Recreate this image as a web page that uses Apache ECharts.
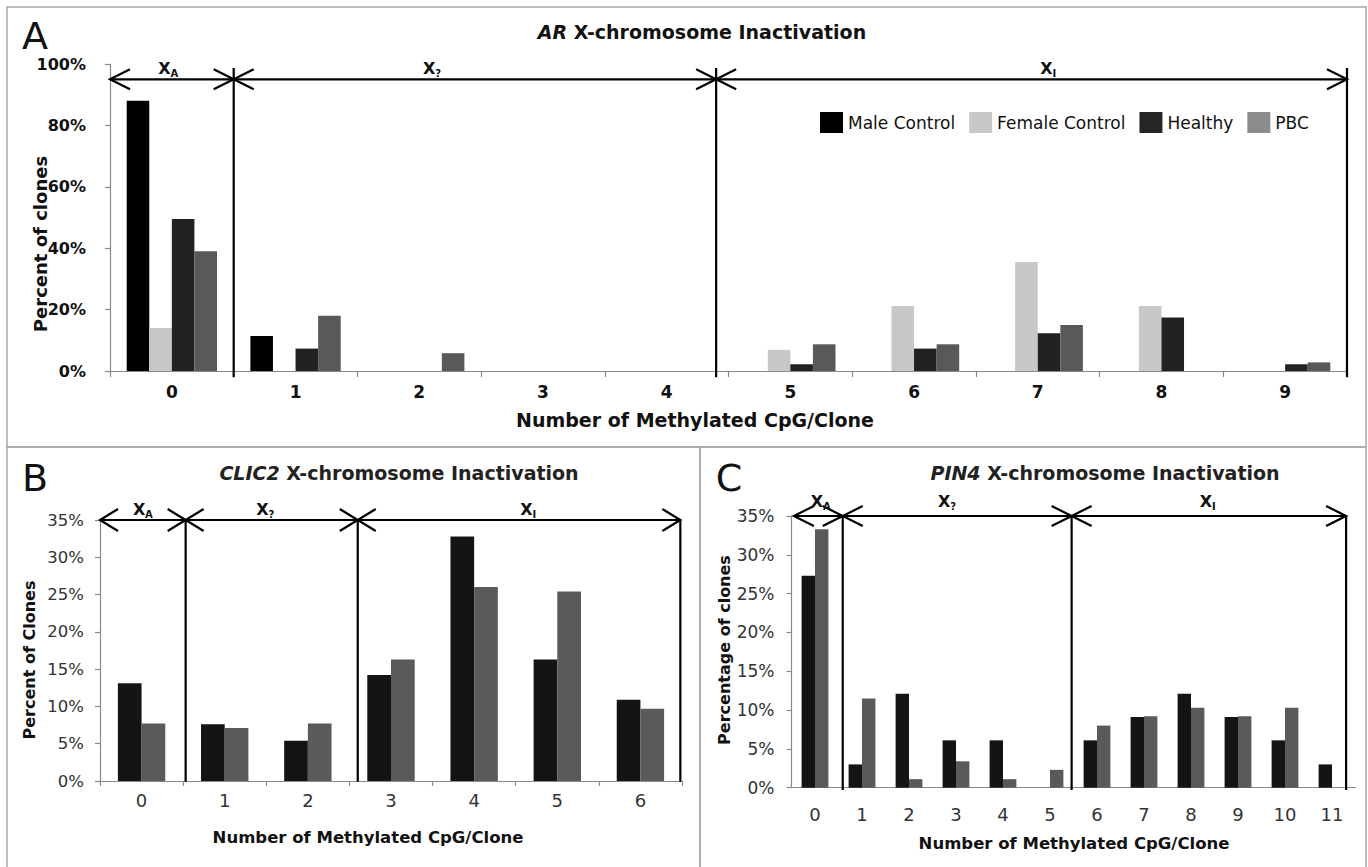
<!DOCTYPE html>
<html>
<head>
<meta charset="utf-8">
<script src="https://cdn.jsdelivr.net/npm/echarts@6/dist/echarts.min.js"></script>
<style>
html,body{margin:0;padding:0;background:#fff;}
#chart{width:1368px;height:867px;}
</style>
</head>
<body>
<div id="chart"></div>
<script>
// ---------------- data ----------------
const categoriesA = ['0','1','2','3','4','5','6','7','8','9'];
const maleControlA   = [88.0, 11.4, 0, 0, 0, 0, 0, 0, 0, 0];
const femaleControlA = [14.0, 0, 0, 0, 0, 6.9, 21.2, 35.5, 21.2, 0];
const healthyA       = [49.5, 7.3, 0, 0, 0, 2.2, 7.3, 12.3, 17.4, 2.2];
const pbcA           = [39.0, 18.0, 5.8, 0, 0, 8.7, 8.7, 15.0, 0, 2.8];

const categoriesB = ['0','1','2','3','4','5','6'];
const healthyB = [13.1, 7.6, 5.4, 14.2, 32.8, 16.3, 10.9];
const pbcB     = [7.7, 7.1, 7.7, 16.3, 26.0, 25.4, 9.7];

const categoriesC = ['0','1','2','3','4','5','6','7','8','9','10','11'];
const healthyC = [27.3, 3.0, 12.1, 6.1, 6.1, 0, 6.1, 9.1, 12.1, 9.1, 6.1, 3.0];
const pbcC     = [33.3, 11.5, 1.1, 3.4, 1.1, 2.3, 8.0, 9.2, 10.3, 9.2, 10.3, 0];

// region boundaries (in category units) and region labels
const boundsA = [-0.5, 0.5, 4.4, 9.5];
const boundsB = [-0.5, 0.53, 2.6, 6.48];
const boundsC = [-0.45, 0.59, 5.46, 11.3];
const regionSubs = ['A', '?', 'I'];
const regionLabelXA = [-0.06, 2.08, 7.07];
const regionLabelXB = [-0.03, 1.455, 4.63];
const regionLabelXC = [0.04, 2.75, 8.32];

const ticksA = {min: 0, max: 100, interval: 20};
const ticksBC = {min: 0, max: 35, interval: 5};

// ---------------- chart ----------------
const FONT = '"DejaVu Sans", sans-serif';
const chart = echarts.init(document.getElementById('chart'), null, {renderer: 'svg'});

function annot(xIdx, yIdx, bounds, arrowY, sepTop, sepBot, labelXs, labelDy, armX, armY) {
  return {
    type: 'custom', xAxisIndex: xIdx, yAxisIndex: yIdx, silent: true, z: 10, clip: false,
    data: [[0, 0]],
    renderItem: function (params, api) {
      const ch = [];
      const n = bounds.length;
      const pY = api.coord([bounds[0], arrowY])[1];
      const xs = bounds.map(b => api.coord([b, arrowY])[0]);
      const st = {stroke: '#000', lineWidth: 2.2, fill: 'none'};
      ch.push({type: 'line', shape: {x1: xs[0], y1: pY, x2: xs[n - 1], y2: pY}, style: st});
      function head(x, dir) {
        ch.push({type: 'polyline', shape: {points: [[x - dir * armX, pY - armY], [x, pY], [x - dir * armX, pY + armY]]}, style: st});
      }
      head(xs[0], -1);
      for (let i = 1; i < n - 1; i++) { head(xs[i], 1); head(xs[i], -1); }
      head(xs[n - 1], 1);
      for (let i = 1; i < n; i++) {
        const t = api.coord([bounds[i], sepTop])[1];
        const b = api.coord([bounds[i], sepBot])[1];
        ch.push({type: 'line', shape: {x1: xs[i], y1: t, x2: xs[i], y2: b}, style: st});
      }
      labelXs.forEach((lx, k) => {
        const cx = api.coord([lx, arrowY])[0];
        ch.push({type: 'text', style: {text: 'X', x: cx, y: pY + labelDy, align: 'center', verticalAlign: 'middle',
          fontSize: 16, fontWeight: 'bold', fontFamily: FONT, fill: '#111'}});
        ch.push({type: 'text', style: {text: regionSubs[k], x: cx + 6, y: pY + labelDy + 5, align: 'left', verticalAlign: 'middle',
          fontSize: 10, fontWeight: 'bold', fontFamily: FONT, fill: '#111'}});
      });
      return {type: 'group', children: ch};
    }
  };
}

function catAxis(grid, cats, labelFont, margin, tickShow, tickLen) {
  return {
    type: 'category', gridIndex: grid, data: cats, boundaryGap: true,
    axisLine: {show: true, onZero: false, lineStyle: {color: '#8a8a8a', width: 1.2}},
    axisTick: {show: tickShow, length: tickLen, lineStyle: {color: '#8a8a8a', width: 1.2}},
    axisLabel: Object.assign({margin: margin, color: '#111', fontFamily: FONT}, labelFont),
    splitLine: {show: false}
  };
}
function hiddenX(grid, n) {
  return {type: 'value', gridIndex: grid, min: -0.5, max: n - 0.5, show: false,
    axisLine: {show: false, onZero: false}, splitLine: {show: false}};
}
function valAxis(grid, t, labelFont, margin, color) {
  return {
    type: 'value', gridIndex: grid, min: t.min, max: t.max, interval: t.interval,
    axisLine: {show: true, onZero: false, lineStyle: {color: '#8a8a8a', width: 1.2}},
    axisTick: {show: true, length: 5, lineStyle: {color: '#8a8a8a', width: 1.2}},
    axisLabel: Object.assign({margin: margin, color: color, fontFamily: FONT, formatter: '{value}%'}, labelFont),
    splitLine: {show: false}
  };
}
function bar(name, data, x, y, color, gap) {
  return {name: name, type: 'bar', xAxisIndex: x, yAxisIndex: y, data: data, barGap: '0%', barCategoryGap: gap,
    itemStyle: {color: color}, silent: true};
}

const border = {fill: 'none', stroke: '#a8a8a8', lineWidth: 1.5};
function txt(text, x, y, size, weight, extra) {
  return {type: 'text', x: x, y: y, silent: true,
    style: Object.assign({text: text, fontSize: size, fontWeight: weight, fontFamily: FONT, fill: '#111',
      align: 'center', verticalAlign: 'middle'}, extra || {})};
}

const option = {
  animation: false,
  backgroundColor: '#fff',
  textStyle: {fontFamily: FONT},
  grid: [
    {left: 110, top: 64, width: 1237, height: 307},
    {left: 100, top: 520, width: 582, height: 261},
    {left: 791.5, top: 516, width: 564, height: 271.7}
  ],
  xAxis: [
    catAxis(0, categoriesA, {fontSize: 17, fontWeight: 'bold'}, 12, true, 6),
    hiddenX(0, categoriesA.length),
    catAxis(1, categoriesB, {fontSize: 18, fontWeight: 'normal', color: '#333'}, 10, true, 5),
    hiddenX(1, categoriesB.length),
    catAxis(2, categoriesC, {fontSize: 18, fontWeight: 'normal', color: '#333'}, 18, false, 0),
    hiddenX(2, categoriesC.length)
  ],
  yAxis: [
    valAxis(0, ticksA, {fontSize: 16, fontWeight: 'bold'}, 24, '#111'),
    valAxis(1, ticksBC, {fontSize: 16.5, fontWeight: 'normal'}, 16, '#333'),
    valAxis(2, ticksBC, {fontSize: 17, fontWeight: 'normal'}, 17, '#333')
  ],
  legend: {
    left: 815, top: 107, itemWidth: 23, itemHeight: 21, itemGap: 14, icon: 'rect', selectedMode: false,
    textStyle: {fontSize: 17, color: '#111', fontFamily: FONT},
    data: [
      {name: 'Male Control', itemStyle: {color: '#000'}},
      {name: 'Female Control', itemStyle: {color: '#c8c8c8'}},
      {name: 'Healthy', itemStyle: {color: '#262626'}},
      {name: 'PBC', itemStyle: {color: '#8c8c8c'}}
    ]
  },
  series: [
    bar('Male Control', maleControlA, 0, 0, '#000000', '27%'),
    bar('Female Control', femaleControlA, 0, 0, '#c8c8c8', '27%'),
    bar('Healthy', healthyA, 0, 0, '#222222', '27%'),
    bar('PBC', pbcA, 0, 0, '#595959', '27%'),
    bar('Healthy B', healthyB, 2, 1, '#141414', '43%'),
    bar('PBC B', pbcB, 2, 1, '#5a5a5a', '43%'),
    bar('Healthy C', healthyC, 4, 2, '#141414', '43%'),
    bar('PBC C', pbcC, 4, 2, '#5a5a5a', '43%'),
    annot(1, 0, boundsA, 95, 98.7, -2, regionLabelXA, -11, 20, 10),
    annot(3, 1, boundsB, 35, 35, -0.1, regionLabelXB, -11, 18, 11),
    annot(5, 2, boundsC, 35, 35, -0.3, regionLabelXC, -15, 20, 10)
  ],
  graphic: [
    {type: 'rect', silent: true, shape: {x: 7, y: 7, width: 1359, height: 440}, style: border},
    {type: 'rect', silent: true, shape: {x: 7, y: 447, width: 693, height: 430}, style: border},
    {type: 'rect', silent: true, shape: {x: 700, y: 447, width: 666, height: 430}, style: border},
    txt('A', 35, 36, 38, 'normal'),
    txt('B', 35, 478, 38, 'normal'),
    txt('C', 729, 478, 38, 'normal'),
    txt('{i|AR} X-chromosome Inactivation', 702, 32, 19, 'bold',
      {rich: {i: {fontStyle: 'italic', fontWeight: 'bold', fontSize: 19, fontFamily: FONT, fill: '#111'}}}),
    txt('{i|CLIC2} X-chromosome Inactivation', 399, 473, 19, 'bold',
      {fill: '#222', rich: {i: {fontStyle: 'italic', fontWeight: 'bold', fontSize: 19, fontFamily: FONT, fill: '#222'}}}),
    txt('{i|PIN4} X-chromosome Inactivation', 1105, 473, 19, 'bold',
      {fill: '#222', rich: {i: {fontStyle: 'italic', fontWeight: 'bold', fontSize: 19, fontFamily: FONT, fill: '#222'}}}),
    txt('Number of Methylated CpG/Clone', 695, 420, 19, 'bold'),
    txt('Number of Methylated CpG/Clone', 368, 837, 16.5, 'bold'),
    txt('Number of Methylated CpG/Clone', 1074, 843, 16.5, 'bold'),
    Object.assign(txt('Percent of clones', 40, 244, 18, 'bold'), {rotation: Math.PI / 2}),
    Object.assign(txt('Percent of Clones', 29, 660, 16, 'bold'), {rotation: Math.PI / 2}),
    Object.assign(txt('Percentage of clones', 724, 650, 16, 'bold'), {rotation: Math.PI / 2})
  ]
};
chart.setOption(option);
</script>
</body>
</html>
